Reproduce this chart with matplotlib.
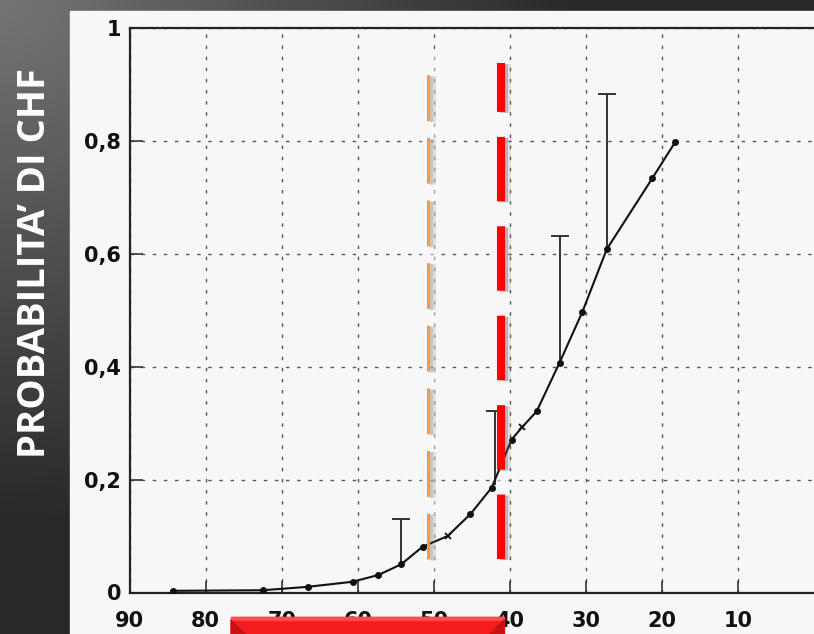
import matplotlib
matplotlib.use("Agg")
import numpy as np
import matplotlib.pyplot as plt
from matplotlib.patches import Rectangle, Polygon
import matplotlib.patheffects as pe

# CHF probability curve (x axis runs from 90 down to 0)
x_vals = [84.3, 72.5, 66.6, 60.7, 57.3, 54.3, 51.5, 48.2, 45.2, 42.4,
          39.8, 38.4, 36.5, 33.5, 30.5, 27.3, 21.3, 18.3]
p_vals = [0.003, 0.004, 0.010, 0.019, 0.031, 0.050, 0.081, 0.100, 0.139, 0.186,
          0.271, 0.293, 0.321, 0.407, 0.497, 0.608, 0.734, 0.798]
cross_pts = [7, 11]  # points drawn as small crosses

# upper error bars
err_x = [54.3, 42.0, 33.5, 27.2]
err_lo = [0.050, 0.190, 0.407, 0.608]
err_hi = [0.130, 0.321, 0.632, 0.883]

# threshold markers
orange_x = 50.8
red_x = 41.2
marker_lo, marker_hi = 0.059, 0.938

xticks = [90, 80, 70, 60, 50, 40, 30, 20, 10]
yticks = [0, 0.2, 0.4, 0.6, 0.8, 1]
ytick_labels = ["0", "0,2", "0,4", "0,6", "0,8", "1"]

W, H = 814, 634
fig = plt.figure(figsize=(W / 100, H / 100), dpi=100)

# dark backdrop, lighter toward the top-left corner
bg = fig.add_axes([0, 0, 1, 1])
yy, xx = np.mgrid[0:H, 0:W]
glow = np.clip(1 - np.hypot(xx * 0.9, yy) / 520, 0, 1)
shade = 0.16 + 0.30 * glow
bg.imshow(np.dstack([shade] * 3), extent=(0, W, H, 0), aspect="auto")
bg.add_patch(Rectangle((70, 11), W - 70, H - 11, color="#f7f7f7"))
bg.set_xlim(0, W)
bg.set_ylim(H, 0)
bg.axis("off")

ax = fig.add_axes([129.5 / W, (H - 592.5) / H, 685 / W, 564.5 / H])
ax.set_facecolor("none")
ax.set_xlim(90, 0)
ax.set_ylim(0, 1)

ax.set_xticks(xticks)
ax.set_xticklabels([str(t) for t in xticks])
ax.set_yticks(yticks)
ax.set_yticklabels(ytick_labels)
ax.tick_params(direction="in", length=9, width=1.2, color="#333",
               labelsize=15, labelcolor="#111")
ax.tick_params(axis="x", pad=13)
ax.tick_params(axis="y", pad=6)
for lab in ax.get_xticklabels() + ax.get_yticklabels():
    lab.set_fontweight("bold")

ax.grid(True, color="#555", linestyle=(0, (2.5, 5.5)), lw=1.0)
for side in ["left", "bottom", "top"]:
    ax.spines[side].set_linewidth(1.6)
    ax.spines[side].set_color("#222")
ax.spines["right"].set_linewidth(0.8)
ax.spines["right"].set_color("#888")

# faint white halo behind the threshold lines
for xv in [orange_x, red_x]:
    ax.plot([xv, xv], [marker_lo - 0.02, marker_hi + 0.02], color="#f7f7f7",
            lw=10, alpha=0.5, solid_capstyle="butt", zorder=2)

# error bars
ax.vlines(err_x, err_lo, err_hi, color="#333", lw=1.4, zorder=3)
ax.plot(err_x, err_hi, ls="none", marker="_", ms=13, mew=1.4,
        color="#333", zorder=3)

# curve
ax.plot(x_vals, p_vals, color="#111", lw=1.5, zorder=4)
dots = [i for i in range(len(x_vals)) if i not in cross_pts]
ax.plot([x_vals[i] for i in dots], [p_vals[i] for i in dots], ls="none",
        marker="o", ms=4, color="#111", zorder=4)
ax.plot([x_vals[i] for i in cross_pts], [p_vals[i] for i in cross_pts],
        ls="none", marker="x", ms=5, mew=1.3, color="#111", zorder=4)

# dashed threshold lines, drawn bottom-up, with a soft grey shadow
shadow = [pe.SimpleLineShadow(offset=(4.5, -0.5), shadow_color="#777", alpha=0.18),
          pe.SimpleLineShadow(offset=(2.5, -0.5), shadow_color="#555", alpha=0.3),
          pe.Normal()]
ax.plot([orange_x, orange_x], [marker_lo, marker_hi], color="#f29a4a",
        lw=2.2, linestyle=(0, (15, 5.5)), dash_capstyle="butt",
        path_effects=shadow, zorder=5)
ax.plot([red_x, red_x], [marker_lo, marker_hi], color="#ff0000",
        lw=5.8, linestyle=(0, (8, 3.1)), dash_capstyle="butt",
        path_effects=shadow, zorder=5)

fig.text(35 / W, 1 - 263 / H, "PROBABILITA\u2019 DI CHF", rotation=90,
         color="white", fontsize=27.5, fontweight="bold", family="Open Sans",
         ha="center", va="center")

# red box over the lower tick labels
top = fig.add_axes([0, 0, 1, 1], zorder=5)
top.set_facecolor("none")
top.set_xlim(0, W)
top.set_ylim(H, 0)
top.axis("off")
top.add_patch(Rectangle((231, 617), 273, 20, color="#f41c1c"))
top.add_patch(Rectangle((231, 617), 273, 3, color="#ff4b4b"))
top.add_patch(Polygon([(231, 620), (245, 634), (231, 634)], color="#c81212"))
top.add_patch(Polygon([(504, 620), (490, 634), (504, 634)], color="#c81212"))

fig.savefig("out.png", dpi=100)
